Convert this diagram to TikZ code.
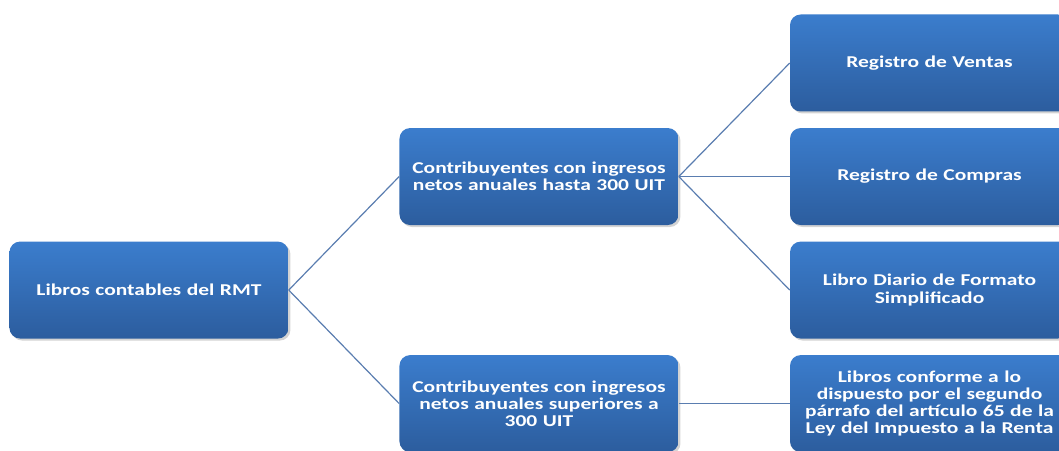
\documentclass[tikz,border=0pt]{standalone}
\usepackage{fontspec}
\setmainfont{Carlito}[FakeStretch=1.3]
\usetikzlibrary{positioning, shadows}

\definecolor{cajaarriba}{HTML}{3B7DCD}
\definecolor{cajaabajo}{HTML}{2C5D9E}
\definecolor{linea}{HTML}{5A7DB0}

\begin{document}
\begin{tikzpicture}[x=0.75pt, y=0.75pt]
    \tikzstyle{caja} = [rectangle, rounded corners=8pt, top color=cajaarriba, bottom color=cajaabajo, minimum width=209.25pt, minimum height=72.75pt, inner sep=3pt, text width=203pt, align=center, text=white, font=\bfseries\fontsize{12.4}{12.9}\selectfont, drop shadow={opacity=0.35, shadow xshift=1.5pt, shadow yshift=-1.5pt}]
    \tikzstyle{rama} = [draw=linea, line width=0.9pt]
    \useasboundingbox (0,0) rectangle (1059,450);
    \node (ventas) [caja] at (929.5,387) {Registro de Ventas};
    \node (compras) [caja, below=12pt of ventas] {Registro de Compras};
    \node (diario) [caja, below=12pt of compras] {Libro Diario de Formato\\Simplificado};
    \node (renta) [caja, below=12pt of diario] {Libros conforme a lo\\dispuesto por el segundo\\párrafo del artículo 65 de la\\Ley del Impuesto a la Renta};
    \node (hasta) [caja, left=83.25pt of compras] {Contribuyentes con ingresos\\netos anuales hasta 300 UIT};
    \node (superior) [caja, left=83.25pt of renta] {Contribuyentes con ingresos\\netos anuales superiores a\\300 UIT};
    \node (rmt) [caja, below=12pt of hasta, xshift=-292.5pt] {Libros contables del RMT};
    \draw [rama] (rmt.east) -- (hasta.west);
    \draw [rama] (rmt.east) -- (superior.west);
    \draw [rama] (hasta.east) -- (ventas.west);
    \draw [rama] (hasta.east) -- (compras.west);
    \draw [rama] (hasta.east) -- (diario.west);
    \draw [rama] (superior.east) -- (renta.west);
\end{tikzpicture}
\end{document}
